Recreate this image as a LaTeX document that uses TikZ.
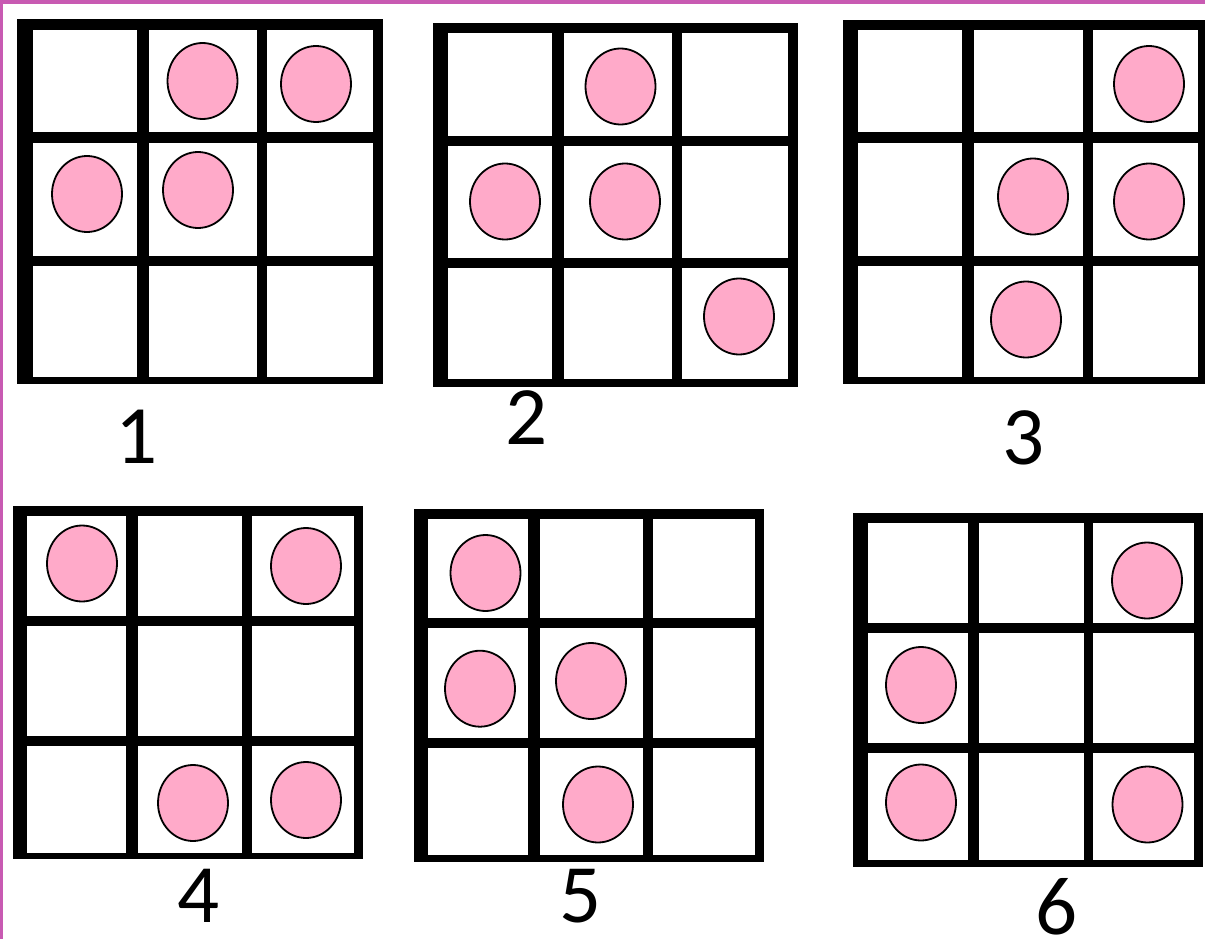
\documentclass[tikz,border=0pt]{standalone}
\usepackage{fontspec}
\usepackage{tikz}
\usetikzlibrary{positioning,shapes.geometric}
\newfontfamily\chiffres{Carlito}
\definecolor{rose}{RGB}{255,170,201}
\definecolor{cadre}{RGB}{200,90,178}
\tikzset{
  jeton/.style={ellipse, draw=black, fill=rose, line width=1.8pt,
    minimum width=70pt, minimum height=76pt, inner sep=0pt},
  chiffre/.style={font=\chiffres\fontsize{83}{84}\selectfont, inner sep=0pt, text=black},
}
% grille 3x3 : coin haut-gauche, coin bas-droit, colonnes, lignes
\newcommand{\grille}[4]{%
  \fill[black] #1 rectangle #2;
  \foreach \xa/\xb in {#3}
    \foreach \ya/\yb in {#4}
      \fill[white] (\xa,\ya) rectangle (\xb,\yb);
}
\begin{document}
\begin{tikzpicture}[x=1pt, y=-1pt]
    \useasboundingbox (0,0) rectangle (1205,939);
    \fill[white] (0,0) rectangle (1205,939);
    % Bord
    \fill[cadre] (0,0) rectangle (1205,4.5);
    \fill[cadre] (0,0) rectangle (3,939);
    % Grilles
    \grille{(17,19)}{(383,384)}{33/137,149/257,267/373}{30/132,143/256,266/377}
    \grille{(433,23)}{(798,387)}{448/552,564/672,682/788}{33/136,146/258,268/379}
    \grille{(843,20)}{(1205,384)}{858/962,974/1083,1093/1198}{30/132,143/256,266/377}
    \grille{(13,506)}{(363,859)}{27/126,138/242,252/354}{516/616,626/736,746/853}
    \grille{(414,509)}{(764,862)}{428/528,540/643,653/755}{519/618,628/738,748/855}
    \grille{(853,513)}{(1203,867)}{868/968,979/1084,1093/1194}{523/623,633/743,753/860}
    % Jetons
    \node[jeton] (a1) at (202.5,81) {};
    \node[jeton] (a2) at (316,84) {};
    \node[jeton] (a3) at (87,194) {};
    \node[jeton] (a4) at (198,190) {};
    \node[jeton] (b1) at (620.5,86.5) {};
    \node[jeton] (b2) at (505,201.5) {};
    \node[jeton] (b3) at (625,201.5) {};
    \node[jeton] (b4) at (739,316.5) {};
    \node[jeton] (c1) at (1149,84) {};
    \node[jeton] (c2) at (1033,196.5) {};
    \node[jeton] (c3) at (1149,201.5) {};
    \node[jeton] (c4) at (1026,319.5) {};
    \node[jeton] (d1) at (82,563.5) {};
    \node[jeton] (d2) at (306,566) {};
    \node[jeton] (d3) at (193,803) {};
    \node[jeton] (d4) at (306,800) {};
    \node[jeton] (e1) at (485.5,573) {};
    \node[jeton] (e2) at (480,688.7) {};
    \node[jeton] (e3) at (591,681) {};
    \node[jeton] (e4) at (598,804.5) {};
    \node[jeton] (f1) at (1147,580.5) {};
    \node[jeton] (f2) at (921,685) {};
    \node[jeton] (f3) at (921,802.5) {};
    \node[jeton] (f4) at (1147.5,804.5) {};
    % Numeros
    \node[chiffre] (n1) at (137,437) {1};
    \node[chiffre] (n2) at (527,418) {2};
    \node[chiffre] (n3) at (1024,438) {3};
    \node[chiffre] (n4) at (199,896) {4};
    \node[chiffre] (n5) at (581,896) {5};
    \node[chiffre] (n6) at (1057,907) {6};
\end{tikzpicture}
\end{document}
